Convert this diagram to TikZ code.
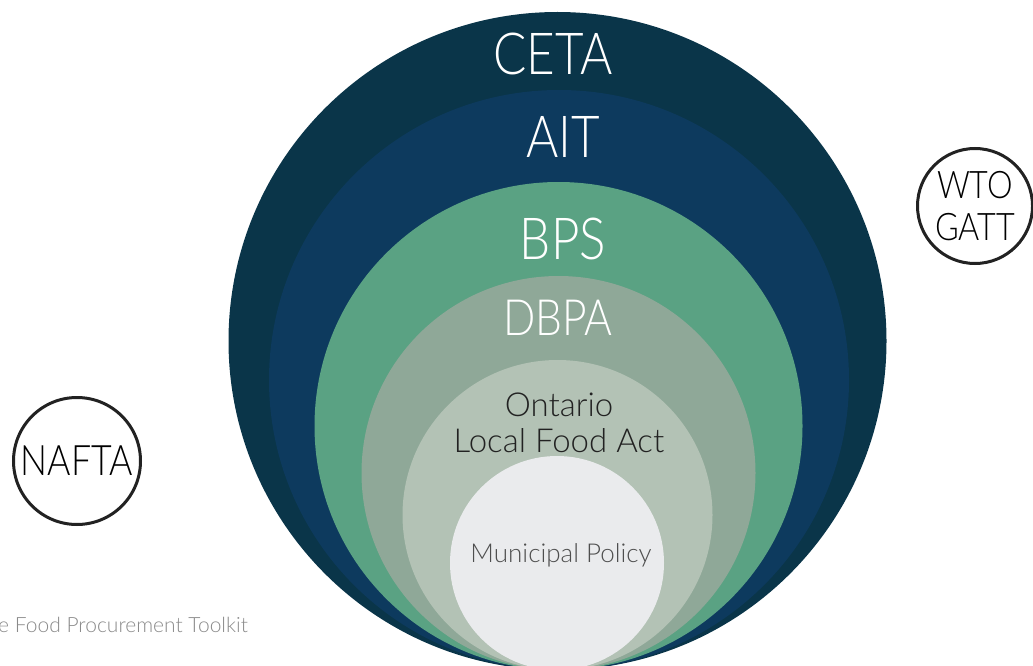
\documentclass[tikz,border=0pt]{standalone}
\usepackage{fontspec}
\setmainfont{Lato Light}
\newfontfamily\slim{Lato Light}[FakeStretch=0.85]
\definecolor{ceta}{HTML}{0A3549}
\definecolor{ait}{HTML}{0D3A5E}
\definecolor{bps}{HTML}{5AA283}
\definecolor{dbpa}{HTML}{8FA898}
\definecolor{olfa}{HTML}{B3C2B5}
\definecolor{muni}{HTML}{EAEBED}
\definecolor{ink}{HTML}{222222}
\definecolor{note}{HTML}{8A8A8A}
\tikzset{
  lbl/.style={align=center,inner sep=0pt,font=\slim\fontsize{#1}{#1}\selectfont},
  ring/.style={circle,draw=ink,line width=3pt,inner sep=0pt,minimum size=#1,align=center}
}
\begin{document}
\begin{tikzpicture}[x=1pt,y=-1pt]
      \useasboundingbox (0,0) rectangle (1033,666);
      \begin{scope}
      \clip (0,0) rectangle (1033,666);
      \fill[ceta] (557.5,341) circle (329);
      \fill[ait] (559,380) circle (290);
      \fill[bps] (558.5,426) circle (244);
      \fill[dbpa] (558.5,473) circle (197);
      \fill[olfa] (557.5,515) circle (155);
      \fill[muni] (557,563) circle (107);
      \end{scope}
      \node[lbl=58,white] (ceta) at (553,54) {CETA};
      \node[lbl=58,white] (ait) at (563,137) {AIT};
      \node[lbl=58,white] (bps) at (563,239) {BPS};
      \node[lbl=50,white] (dbpa) at (558,318) {DBPA};
      \node[align=center,inner sep=0pt,ink,font=\fontsize{33}{33}\selectfont] (olfa) at (559,423) {Ontario\\[3pt]Local Food Act};
      \node[inner sep=0pt,ink!80,font=\fontsize{26}{26}\selectfont] (muni) at (561,555) {Municipal Policy};
      \node[ring=115pt,font=\slim\fontsize{38}{42}\selectfont] (wto) at (975,206) {WTO\\GATT};
      \node[ring=127pt,font=\slim\fontsize{42}{42}\selectfont] (nafta) at (77,461) {NAFTA};
      \node[anchor=west,inner sep=0pt,note,font=\fontsize{21}{21}\selectfont] (toolkit) at (-2,625) {e Food Procurement Toolkit};
    \end{tikzpicture}
\end{document}
